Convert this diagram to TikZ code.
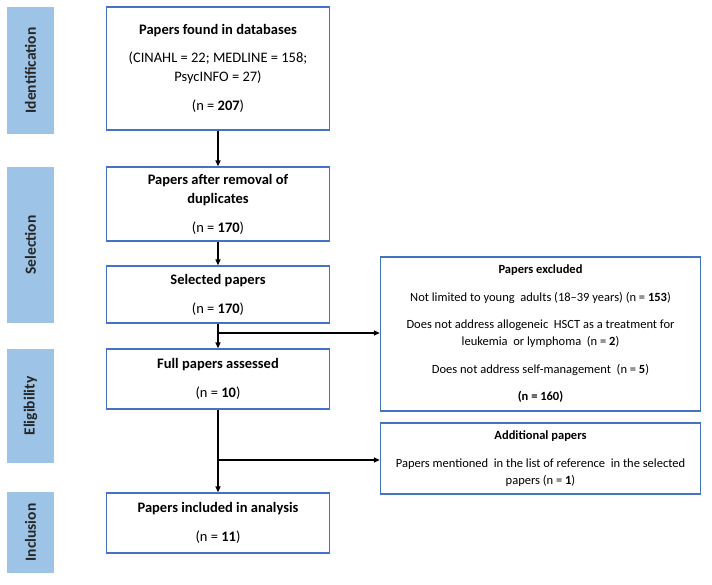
\documentclass[tikz,border=0pt]{standalone}
\usepackage{fontspec}
\setmainfont{Carlito}
\usepackage{xcolor}
\usepackage{tikz}
\usetikzlibrary{positioning,calc,arrows.meta}

\definecolor{boxblue}{HTML}{4472C4}
\definecolor{phaseblue}{HTML}{9DC3E6}
\definecolor{phasetext}{HTML}{262626}

\begin{document}
\begin{tikzpicture}[x=1pt,y=-1pt,
    phase/.style={fill=phaseblue, rotate=90, inner sep=0pt, minimum height=47pt,
        font=\fontsize{15.5}{18}\selectfont\bfseries, text=phasetext},
    mainbox/.style={draw=boxblue, line width=1.3pt, minimum width=223pt, align=center,
        inner sep=0pt, font=\fontsize{14.5}{19}\selectfont},
    sidebox/.style={draw=boxblue, line width=1.3pt, minimum width=320pt, align=center,
        inner sep=0pt, font=\fontsize{12.5}{17}\selectfont},
    flow/.style={line width=1.3pt, -{Triangle[length=6pt,width=5pt]}}]
    \useasboundingbox (0,0) rectangle (712,584);

    % Phases
    \foreach \lab/\ya/\yb in {Identification/7/134, Selection/167/323, Eligibility/349/463, Inclusion/492/573}
        \node[phase, minimum width={\yb-\ya}] (\lab) at (30.5,{(\ya+\yb)/2}) {\lab};

    % Main boxes
    \node[mainbox, minimum height=123pt] (found) at (218,68.5)
        {\textbf{Papers found in databases}\\[9pt]
         (CINAHL = 22; MEDLINE = 158;\\ PsycINFO = 27)\\[10pt]
         (n = \textbf{207})};
    \node[mainbox, minimum height=74pt] (dupl) at (218,204)
        {\textbf{Papers after removal of}\\ \textbf{duplicates}\\[10pt] (n = \textbf{170})};
    \node[mainbox, minimum height=57pt] (sel) at (218,294.5)
        {\textbf{Selected papers}\\[10pt] (n = \textbf{170})};
    \node[mainbox, minimum height=60pt] (full) at (218,379)
        {\textbf{Full papers assessed}\\[10pt] (n = \textbf{10})};
    \node[mainbox, minimum height=60pt] (incl) at (218,523)
        {\textbf{Papers included in analysis}\\[10pt] (n = \textbf{11})};

    % Side boxes
    \node[sidebox, minimum height=154pt] (excl) at (540.5,334)
        {\textbf{Papers excluded}\\[11pt]
         Not limited to young\ \ adults (18--39 years) (n = \textbf{153})\\[10pt]
         Does not address allogeneic\ \ HSCT as a treatment for\\ leukemia\ \ or lymphoma\ \ (n = \textbf{2})\\[11pt]
         Does not address self-management\ \ (n = \textbf{5})\\[10pt]
         \textbf{(n = 160)}};
    \node[sidebox, minimum height=71pt] (add) at (540.5,458.5)
        {\textbf{Additional papers}\\[11pt]
         Papers mentioned\ \ in the list of reference\ \ in the selected\\ papers (n = \textbf{1})};

    % Arrows
    \coordinate (split1) at (218,333);
    \coordinate (split2) at (218,460);
    \draw[flow] (found) -- (dupl);
    \draw[flow] (dupl) -- (sel);
    \draw[flow] (sel) -- (full);
    \draw[flow] (split1) -- (excl.west |- split1);
    \draw[flow] (full) -- (incl);
    \draw[flow] (split2) -- (add.west |- split2);
\end{tikzpicture}
\end{document}
